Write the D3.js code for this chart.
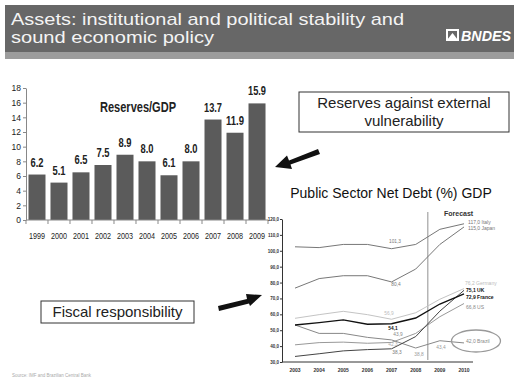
<!DOCTYPE html>
<html><head><meta charset="utf-8">
<script src="https://cdn.jsdelivr.net/npm/d3@7"></script>
<style>html,body{margin:0;padding:0;background:#fff;}svg{display:block;}</style>
</head><body>
<script>
// ---- data ----
const reserveYears = ["1999","2000","2001","2002","2003","2004","2005","2006","2007","2008","2009"];
const reserveValues = [6.2, 5.1, 6.5, 7.5, 8.9, 8.0, 6.1, 8.0, 13.7, 11.9, 15.9];
const reserveTicks = [0,2,4,6,8,10,12,14,16,18];

const debtYears = [2003,2004,2005,2006,2007,2008,2009,2010];
const debtTicks = [30,40,50,60,70,80,90,100,110,120];
const italy   = [102.5, 102.0, 104.0, 104.0, 101.3, 104.0, 113.5, 117.0];
const japan   = [76.5, 82.5, 84.3, 84.3, 80.4, 88.5, 104.0, 115.0];
const germany = [57.5, 59.8, 61.9, 59.8, 56.9, 61.0, 69.5, 76.2];
const france  = [53.3, 54.8, 56.5, 53.8, 54.1, 57.7, 66.5, 72.9];
const uk      = [33.5, 35.2, 37.0, 37.8, 38.3, 46.0, 62.0, 75.1];
const us      = [40.8, 42.2, 42.5, 41.8, 42.3, 48.0, 58.5, 66.8];
const brazil  = [53.3, 48.0, 48.0, 45.5, 43.9, 38.8, 43.4, 42.0];
const seriesNames = ["Italy","Japan","Germany","UK","France","US","Brazil"];

const W = 514, H = 378;
const svg = d3.select("body").append("svg").attr("width", W).attr("height", H);
const sans = "Liberation Sans, Arial, sans-serif";

// ---- header ----
svg.append("rect").attr("x",5).attr("y",5).attr("width",509).attr("height",47).attr("fill","#676767");
svg.append("rect").attr("x",5).attr("y",52).attr("width",509).attr("height",7).attr("fill","#9c9c9c");
const ht = svg.append("text").attr("font-family",sans).attr("font-size",17).attr("fill","#f4f4f4");
ht.append("tspan").attr("x",11).attr("y",25).attr("textLength",393).attr("lengthAdjust","spacingAndGlyphs").text("Assets: institutional and political stability and");
ht.append("tspan").attr("x",11).attr("y",43).attr("textLength",203).attr("lengthAdjust","spacingAndGlyphs").text("sound economic policy");
// logo
const lg = svg.append("g");
lg.append("rect").attr("x",447).attr("y",30).attr("width",11).attr("height",10).attr("fill","none").attr("stroke","#fff").attr("stroke-width",2);
lg.append("path").attr("d","M447,40 L452.5,33 L458,40 Z").attr("fill","#fff");
lg.append("text").attr("x",461).attr("y",41).attr("font-family",sans).attr("font-weight","bold").attr("font-style","italic").attr("font-size",14)
  .attr("textLength",50).attr("lengthAdjust","spacingAndGlyphs").attr("fill","#fff").text("BNDES");

// ---- bar chart ----
const xb = d3.scaleBand().domain(reserveYears).range([26,268]).paddingInner(0.227).paddingOuter(0.113);
const yb = d3.scaleLinear().domain([0,18]).range([220,88]);
const bg = svg.append("g");
bg.selectAll("rect.bar").data(reserveValues).join("rect").attr("class","bar")
  .attr("x",(d,i)=>xb(reserveYears[i])).attr("width",xb.bandwidth())
  .attr("y",d=>yb(d)).attr("height",d=>yb(0)-yb(d)).attr("fill","#5b5b5b");
bg.selectAll("text.val").data(reserveValues).join("text").attr("class","val")
  .attr("x",(d,i)=>xb(reserveYears[i])+xb.bandwidth()/2).attr("y",d=>yb(d)-8)
  .attr("text-anchor","middle").attr("font-family",sans).attr("font-weight","bold").attr("font-size",12).attr("fill","#222")
  .attr("textLength",d=>d>=10?18:13).attr("lengthAdjust","spacingAndGlyphs")
  .text(d=>d.toFixed(1));
const ya = bg.append("g").attr("transform","translate(26,0)")
  .call(d3.axisLeft(yb).tickValues(reserveTicks).tickSize(3).tickSizeOuter(0));
ya.select(".domain").attr("stroke","#888");
ya.selectAll(".tick line").attr("stroke","#888");
ya.selectAll(".tick text").attr("font-family",sans).attr("font-size",8.5).attr("fill","#222").attr("x",-5);
bg.append("line").attr("x1",26).attr("x2",268).attr("y1",220).attr("y2",220).attr("stroke","#888");
const bounds = reserveYears.map(y=>xb(y)-xb.step()*xb.paddingInner()/2).concat([268]);
bg.selectAll("line.xt").data(bounds).join("line").attr("class","xt")
  .attr("x1",d=>d).attr("x2",d=>d).attr("y1",220).attr("y2",224).attr("stroke","#888");
bg.selectAll("text.yr").data(reserveYears).join("text").attr("class","yr")
  .attr("x",d=>xb(d)+xb.bandwidth()/2).attr("y",239).attr("text-anchor","middle")
  .attr("font-family",sans).attr("font-size",8.5).attr("textLength",16).attr("lengthAdjust","spacingAndGlyphs")
  .attr("fill","#222").text(d=>d);
bg.append("text").attr("x",138).attr("y",112).attr("text-anchor","middle").attr("font-family",sans)
  .attr("font-weight","bold").attr("font-size",15).attr("textLength",76).attr("lengthAdjust","spacingAndGlyphs")
  .attr("fill","#222").text("Reserves/GDP");

// ---- text boxes and arrows ----
svg.append("rect").attr("x",299).attr("y",92).attr("width",210).attr("height",40).attr("fill","#fff").attr("stroke","#333").attr("stroke-width",1);
const t1 = svg.append("text").attr("font-family",sans).attr("font-size",15).attr("fill","#222").attr("text-anchor","middle");
t1.append("tspan").attr("x",404).attr("y",108).text("Reserves against external");
t1.append("tspan").attr("x",404).attr("y",126).text("vulnerability");
svg.append("rect").attr("x",41).attr("y",301).attr("width",153).attr("height",22).attr("fill","#fff").attr("stroke","#333").attr("stroke-width",1);
svg.append("text").attr("x",117.5).attr("y",317).attr("text-anchor","middle").attr("font-family",sans).attr("font-size",15).attr("fill","#222").text("Fiscal responsibility");
svg.append("path").attr("d","M318,149 L289,160.5 L287,155.5 L275,167 L292,169 L290.5,164.5 L320,154 Z").attr("fill","#111");
svg.append("path").attr("d","M218,306 L247,299 L246,294 L262,295 L250,306 L249,303.5 L219,311 Z").attr("fill","#111");

// ---- debt chart ----
const xd = d3.scaleLinear().domain([2003,2010]).range([295,464]);
const yd = d3.scaleLinear().domain([30,120]).range([362,219]);
const dg = svg.append("g");
dg.append("text").attr("x",391).attr("y",198).attr("text-anchor","middle").attr("font-family",sans).attr("font-size",14).attr("fill","#111")
  .text("Public Sector Net Debt (%) GDP");
const yax = dg.append("g").attr("transform","translate(282,0)")
  .call(d3.axisLeft(yd).tickValues(debtTicks).tickSize(2).tickSizeOuter(0).tickFormat(d=>d.toFixed(1).replace(".",",")));
yax.select(".domain").attr("stroke","#333");
yax.selectAll(".tick line").attr("stroke","#333");
yax.selectAll(".tick text").attr("font-family",sans).attr("font-weight","bold").attr("font-size",4.5).attr("fill","#333").attr("x",-3);
dg.append("line").attr("x1",282).attr("x2",473).attr("y1",362).attr("y2",362).attr("stroke","#333");
dg.selectAll("text.dy").data(debtYears).join("text").attr("class","dy")
  .attr("x",d=>xd(d)).attr("y",372).attr("text-anchor","middle").attr("font-family",sans).attr("font-weight","bold")
  .attr("font-size",5).attr("fill","#333").text(d=>d);
dg.append("line").attr("x1",xd(2008.5)).attr("x2",xd(2008.5)).attr("y1",212).attr("y2",360).attr("stroke","#aaa").attr("stroke-width",1.3);
dg.append("text").attr("x",444).attr("y",215.5).attr("font-family",sans).attr("font-weight","bold").attr("font-size",7).attr("fill","#333").text("Forecast");

const series = [
  {name:"Italy", v:italy, c:"#777", w:1},
  {name:"Japan", v:japan, c:"#777", w:1},
  {name:"Germany", v:germany, c:"#c4c4c4", w:1},
  {name:"US", v:us, c:"#999", w:1},
  {name:"Brazil", v:brazil, c:"#888", w:1},
  {name:"UK", v:uk, c:"#444", w:1},
  {name:"France", v:france, c:"#111", w:1.4}
];
const line = d3.line().x((d,i)=>xd(debtYears[i])).y(d=>yd(d));
dg.selectAll("path.s").data(series).join("path").attr("class","s")
  .attr("d",d=>line(d.v)).attr("fill","none").attr("stroke",d=>d.c).attr("stroke-width",d=>d.w);

// in-chart labels
const fmt = v=>v.toFixed(1).replace(".",",");
const inLab = [
  {v:italy[4], x:395, y:243, c:"#777", b:false},
  {v:japan[4], x:396, y:286, c:"#777", b:false},
  {v:germany[4], x:389, y:315, c:"#bbb", b:false},
  {v:france[4], x:393, y:330, c:"#111", b:true},
  {v:brazil[4], x:398, y:336, c:"#888", b:false},
  {v:us[4], x:393, y:346, c:"#aaa", b:false},
  {v:uk[4], x:397, y:354, c:"#777", b:false},
  {v:brazil[5], x:419, y:356, c:"#999", b:false},
  {v:brazil[6], x:441, y:349, c:"#999", b:false}
];
dg.selectAll("text.il").data(inLab).join("text").attr("class","il")
  .attr("x",d=>d.x).attr("y",d=>d.y).attr("text-anchor","middle").attr("font-family",sans)
  .attr("font-size",4.8).attr("font-weight",d=>d.b?"bold":"normal").attr("fill",d=>d.c).text(d=>fmt(d.v));

const endLab = [
  {t:fmt(italy[7])+"  "+seriesNames[0], y:223.5, c:"#777", b:false, x:468},
  {t:fmt(japan[7])+"  "+seriesNames[1], y:229.5, c:"#777", b:false, x:468},
  {t:fmt(germany[7])+"  "+seriesNames[2], y:285, c:"#bbb", b:false, x:465},
  {t:fmt(uk[7])+"  "+seriesNames[3], y:292, c:"#111", b:true, x:466},
  {t:fmt(france[7])+"  "+seriesNames[4], y:299, c:"#111", b:true, x:466},
  {t:fmt(us[7])+"  "+seriesNames[5], y:309, c:"#888", b:false, x:466},
  {t:fmt(brazil[7])+"  "+seriesNames[6], y:343, c:"#888", b:false, x:466}
];
dg.selectAll("text.el").data(endLab).join("text").attr("class","el")
  .attr("x",d=>d.x).attr("y",d=>d.y).attr("font-family",sans).attr("font-size",5)
  .attr("font-weight",d=>d.b?"bold":"normal").attr("fill",d=>d.c).text(d=>d.t);
dg.append("ellipse").attr("cx",476).attr("cy",341).attr("rx",24.5).attr("ry",11).attr("fill","none").attr("stroke","#999").attr("stroke-width",1.3);

// source note
svg.append("text").attr("x",12).attr("y",377).attr("font-family",sans).attr("font-size",4.5).attr("fill","#aaa")
  .text("Source: IMF and Brazilian Central Bank");
</script>
</body></html>
